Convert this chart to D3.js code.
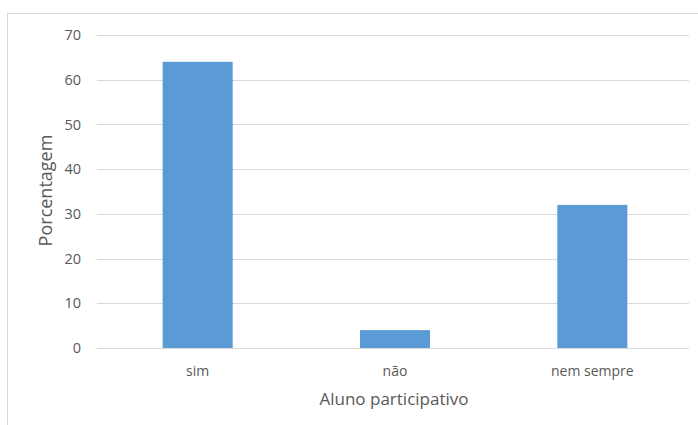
<!DOCTYPE html>
<html>
<head>
<meta charset="utf-8">
<script src="https://cdn.jsdelivr.net/npm/d3@7"></script>
<style>
  html, body { margin: 0; padding: 0; background: #fff; }
  svg { display: block; }
  text { font-family: "Open Sans", "Liberation Sans", sans-serif; fill: #595959; }
</style>
</head>
<body>
<svg id="chart" width="698" height="425"></svg>
<script>
// Chart data
const categories = ["sim", "não", "nem sempre"];
const values = [64, 4, 32];
const yTicks = [0, 10, 20, 30, 40, 50, 60, 70];
const xTitle = "Aluno participativo";
const yTitle = "Porcentagem";

const svg = d3.select("#chart");
const W = 698, H = 425;
const plot = { left: 97, right: 689, top: 35, bottom: 348 };

// Chart frame
svg.append("rect")
  .attr("x", 7.5).attr("y", 13.5)
  .attr("width", W).attr("height", H)
  .attr("fill", "#fff")
  .attr("stroke", "#d9d9d9").attr("stroke-width", 1);

const x = d3.scaleBand()
  .domain(categories)
  .range([plot.left + 2, plot.right + 2])
  .paddingInner(0.645)
  .paddingOuter(0.3225);

const y = d3.scaleLinear()
  .domain([0, 70])
  .range([plot.bottom, plot.top]);

// Horizontal gridlines
svg.append("g")
  .selectAll("line")
  .data(yTicks)
  .join("line")
  .attr("x1", plot.left).attr("x2", plot.right)
  .attr("y1", d => Math.round(y(d)) + 0.5)
  .attr("y2", d => Math.round(y(d)) + 0.5)
  .attr("stroke", "#d9d9d9").attr("stroke-width", 1);

// Bars
svg.append("g")
  .selectAll("rect")
  .data(values)
  .join("rect")
  .attr("x", (d, i) => x(categories[i]))
  .attr("width", x.bandwidth())
  .attr("y", d => y(d))
  .attr("height", d => y(0) - y(d))
  .attr("fill", "#5b9bd5");

// Y axis labels
const yAxis = d3.axisLeft(y).tickValues(yTicks).tickSize(0).tickPadding(0);
svg.append("g")
  .attr("transform", `translate(${plot.left - 16},0)`)
  .call(yAxis)
  .call(g => g.select(".domain").remove())
  .call(g => g.selectAll("text")
    .attr("font-size", 14.5)
    .attr("font-family", null)
    .attr("fill", "#595959"));

// X axis labels
const xAxis = d3.axisBottom(x).tickSize(0).tickPadding(0);
svg.append("g")
  .attr("transform", `translate(0,${plot.bottom + 18})`)
  .call(xAxis)
  .call(g => g.select(".domain").remove())
  .call(g => g.selectAll("text")
    .attr("font-size", 14)
    .attr("font-family", null)
    .attr("fill", "#595959"));

// Axis titles
svg.append("text")
  .attr("x", (plot.left + plot.right) / 2 + 1)
  .attr("y", 405)
  .attr("text-anchor", "middle")
  .attr("font-size", 17)
  .text(xTitle);

svg.append("text")
  .attr("transform", `translate(52,${(plot.top + plot.bottom) / 2 - 1}) rotate(-90)`)
  .attr("text-anchor", "middle")
  .attr("font-size", 18)
  .text(yTitle);
</script>
</body>
</html>
